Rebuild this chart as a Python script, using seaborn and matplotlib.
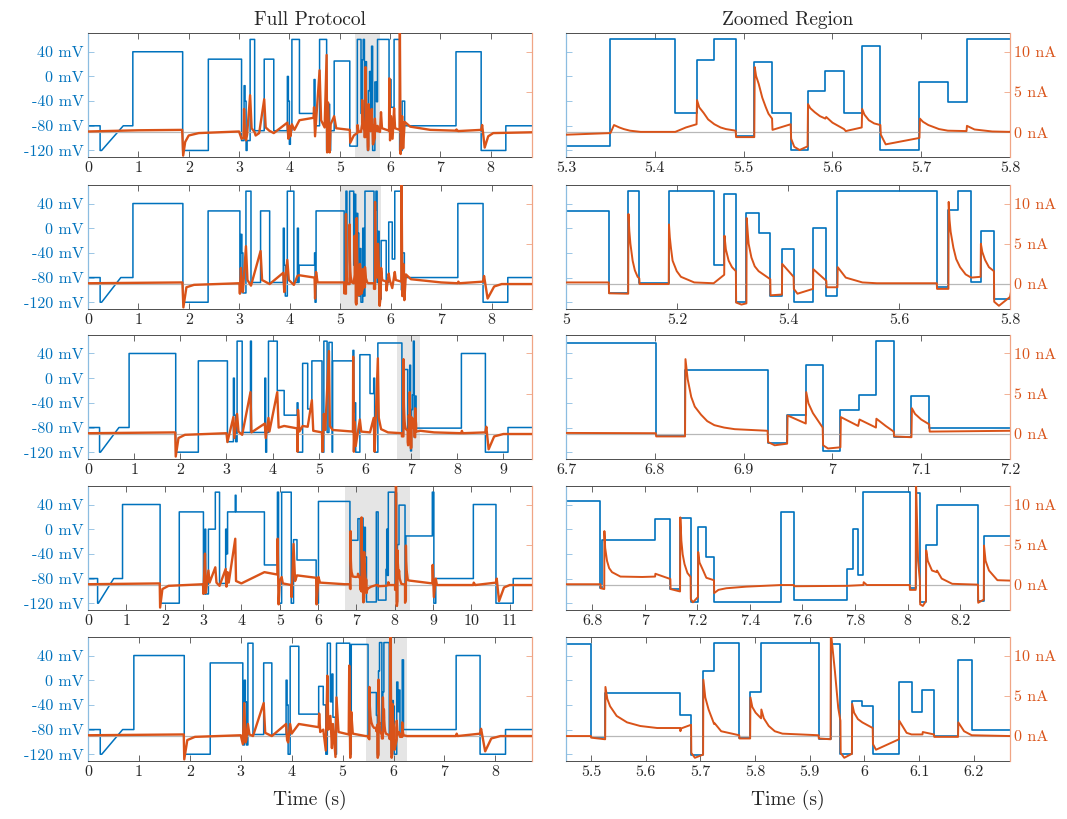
import matplotlib
matplotlib.use("Agg")
import pandas as pd
import matplotlib.pyplot as plt
import seaborn as sns

# =========================================================
# DATA
# =========================================================
# voltage protocols: (time s, level mV) held until the next entry
V_ROW1 = [(0, -80), (0.24, -120), (0.27, -120), (0.70, -80), (0.89, 40), (1.88, -120),
          (2.39, 28), (3.05, -104), (3.10, -15), (3.12, -40), (3.14, -120), (3.16, -104),
          (3.22, 60), (3.31, -88), (3.50, 28), (3.69, -88), (3.96, 0), (3.98, -40),
          (4.00, -110), (4.02, -88), (4.05, 60), (4.20, -60), (4.49, -5), (4.51, -80),
          (4.60, 60), (4.74, -120), (4.76, -45), (4.80, -120), (4.82, -88), (4.89, 25),
          (5.20, -113), (5.35, 60), (5.423, -60), (5.447, 27), (5.467, 60), (5.491, -97),
          (5.512, 24), (5.532, -59), (5.553, -120), (5.572, -23), (5.592, 8), (5.613, -60),
          (5.633, 49), (5.654, -120), (5.698, -9), (5.73, -41), (5.751, 60), (5.98, -88),
          (6.00, -5), (6.02, -50), (6.08, 60), (6.19, -120), (6.24, -40), (6.29, -80),
          (7.31, 40), (7.81, -120), (8.30, -80)]
V_ROW2 = [(0, -80), (0.24, -120), (0.27, -120), (0.65, -80), (0.89, 40), (1.88, -120),
          (2.38, 28), (3.01, -105), (3.03, -10), (3.05, -40), (3.07, -105), (3.13, 60),
          (3.23, -88), (3.42, 28), (3.60, -88), (3.87, 0), (3.89, -60), (3.91, -110),
          (3.95, 60), (4.08, -88), (4.15, 0), (4.17, -88), (4.18, -60), (4.49, -40),
          (4.50, -120), (4.52, 28), (5.077, -105), (5.112, 60), (5.132, -89), (5.185, 60),
          (5.266, -60), (5.285, 55), (5.306, -120), (5.325, 24), (5.347, -8), (5.368, -110),
          (5.389, -33), (5.41, -120), (5.445, 0), (5.469, -110), (5.489, 60), (5.668, -96),
          (5.689, 29), (5.707, 60), (5.73, -88), (5.747, -5), (5.771, -115), (5.81, -20),
          (5.91, -88), (5.96, 10), (6.03, -50), (6.08, 60), (6.21, -100), (6.23, -40),
          (6.27, -80), (7.33, 40), (7.83, -120), (8.32, -80)]
V_ROW3 = [(0, -80), (0.25, -120), (0.27, -120), (0.67, -80), (0.89, 40), (1.90, -120),
          (2.39, 28), (3.02, -103), (3.15, 0), (3.17, -60), (3.20, -103), (3.23, 60),
          (3.34, -88), (3.52, 60), (3.54, -88), (3.83, 0), (3.85, -120), (3.87, -88),
          (3.91, 60), (4.10, -20), (4.25, -60), (4.53, -40), (4.55, -120), (4.65, 24),
          (4.76, -50), (4.85, 28), (5.07, -120), (5.11, 60), (5.18, -88), (5.22, 58),
          (5.29, -120), (5.30, 28), (5.74, 45), (5.76, -55), (5.78, -40), (5.80, -120),
          (5.89, 38), (6.11, -25), (6.19, 0), (6.21, -120), (6.28, 57), (6.801, -92),
          (6.834, 14), (6.927, -105), (6.949, -60), (6.970, 21), (6.989, -118), (7.009, -51),
          (7.030, -27), (7.049, 60), (7.069, -96), (7.089, -29), (7.109, -81), (8.09, 40),
          (8.61, -120), (9.10, -80)]
V_ROW4 = [(0, -80), (0.25, -120), (0.27, -120), (0.67, -80), (0.90, 40), (1.88, -120),
          (2.38, 28), (3.01, -105), (3.05, 0), (3.07, -105), (3.14, 0), (3.32, 60),
          (3.43, -88), (3.59, 0), (3.61, -40), (3.64, 28), (3.84, 55), (3.86, 28),
          (4.60, -58), (4.94, 60), (4.97, -120), (5.05, 60), (5.30, -120), (5.36, -17),
          (5.45, -50), (5.95, -120), (6.01, 45), (6.831, -95), (6.838, -18), (7.039, 17),
          (7.097, -97), (7.134, 18), (7.174, -118), (7.202, 3), (7.234, -45), (7.263, -118),
          (7.519, 28), (7.567, -115), (7.771, -65), (7.791, 0), (7.810, -75), (7.832, 60),
          (8.008, -95), (8.031, 59), (8.047, -118), (8.070, -25), (8.111, 39), (8.268, -116),
          (8.290, -11), (8.98, 60), (9.02, -120), (9.07, -80), (10.05, 40), (10.64, -120),
          (11.09, -80)]
V_ROW5 = [(0, -80), (0.24, -120), (0.27, -120), (0.68, -80), (0.90, 40), (1.89, -120),
          (2.40, 28), (3.04, -105), (3.07, 0), (3.09, -35), (3.11, -105), (3.14, 60),
          (3.24, -88), (3.45, 28), (3.61, -88), (3.89, 0), (3.91, -40), (3.93, -120),
          (3.97, 55), (4.14, -55), (4.53, -10), (4.62, -40), (4.67, -120), (4.70, 60),
          (4.76, -35), (4.79, 10), (4.81, -60), (4.86, -120), (4.88, 60), (5.14, -120),
          (5.17, 58), (5.500, -92), (5.526, -20), (5.663, -57), (5.683, -122), (5.705, 15),
          (5.725, 61), (5.771, -94), (5.791, -19), (5.811, 61), (5.916, -95), (5.938, 59),
          (5.956, -120), (5.977, -33), (5.996, -42), (6.015, -120), (6.063, -3), (6.086, -51),
          (6.106, -16), (6.127, -91), (6.171, 33), (6.196, -80), (7.23, 40), (7.70, -120),
          (8.20, -80)]

# end of the slow ramp at the start of each protocol
RAMP_END = [0.70, 0.65, 0.67, 0.67, 0.68]

# recorded current: (time s, current nA)
I_ROW1 = [(0, 0.1), (1.0, 0.25), (1.87, 0.3), (1.89, -2.9), (1.93, -1.2), (2.0, -0.4),
          (2.2, -0.1), (3.0, 0.1), (3.05, -0.8), (3.09, -0.7), (3.10, 2.9), (3.12, -0.5),
          (3.14, -1.0), (3.16, -0.3), (3.22, 4.6), (3.25, 0.5), (3.31, 0.0), (3.33, -0.4),
          (3.40, -0.1), (3.50, 4.1), (3.53, 0.6), (3.60, 0.2), (3.69, -0.1), (3.96, 1.2),
          (3.98, -0.8), (4.00, 0.8), (4.02, -0.5), (4.05, 1.0), (4.10, 0.3), (4.20, 1.5),
          (4.48, 1.8), (4.49, 3.1), (4.51, -0.5), (4.60, 7.7), (4.63, 1.5), (4.70, 0.6),
          (4.74, 9.6), (4.75, -2.5), (4.77, 3.7), (4.79, -0.5), (4.80, -2.5), (4.82, 1.0),
          (4.89, 2.0), (4.93, 0.5), (5.20, 0.3), (5.21, -1.3), (5.28, -0.4), (5.30, -0.3),
          (5.35, -0.1), (5.354, 0.9), (5.360, 0.6), (5.365, 0.4), (5.372, 0.2),
          (5.384, 0.05), (5.423, 0.05), (5.435, 0.6), (5.447, 1.0), (5.4475, 4.0),
          (5.450, 3.1), (5.455, 2.4), (5.460, 1.6), (5.467, 1.0), (5.474, 0.6),
          (5.480, 0.4), (5.491, 0.2), (5.4915, -0.6), (5.512, -0.6), (5.5125, 8.1),
          (5.514, 7.0), (5.517, 6.0), (5.521, 4.3), (5.525, 3.1), (5.528, 2.3),
          (5.532, 1.7), (5.5325, 0.3), (5.553, 1.0), (5.5535, -0.8), (5.557, -1.8),
          (5.563, -2.2), (5.572, -1.75), (5.5725, 3.5), (5.575, 3.0), (5.580, 2.5),
          (5.586, 2.0), (5.592, 1.7), (5.593, 1.9), (5.600, 1.2), (5.613, 0.4),
          (5.615, 0.15), (5.633, 0.6), (5.6335, 2.9), (5.636, 2.2), (5.641, 1.5),
          (5.647, 1.1), (5.654, 0.9), (5.6545, -0.3), (5.660, -1.5), (5.698, -0.7),
          (5.6985, 1.7), (5.702, 1.3), (5.708, 0.9), (5.720, 0.4), (5.730, 0.2),
          (5.751, 0.15), (5.7515, 0.8), (5.760, 0.35), (5.780, 0.1), (5.80, 0.05),
          (5.82, 2.5), (5.84, 0.5), (5.98, 0.2), (5.985, 6.7), (6.00, -1.0), (6.02, 2.0),
          (6.05, -0.8), (6.08, 3.0), (6.10, 0.5), (6.19, 0.3), (6.195, 13.0), (6.21, -2.7),
          (6.24, 2.0), (6.26, -2.0), (6.29, 1.3), (6.40, 0.7), (6.80, 0.3), (7.31, 0.2),
          (7.32, 0.35), (7.35, 0.15), (7.81, 0.3), (7.83, 0.9), (7.88, -1.9), (7.95, -0.5),
          (8.05, -0.1), (8.82, 0.0)]
I_ROW2 = [(0, 0.1), (1.87, 0.2), (1.89, -2.9), (1.95, -0.4), (2.1, -0.1), (3.0, 0.1),
          (3.01, -1.2), (3.03, 2.0), (3.05, -0.8), (3.07, -1.0), (3.13, 4.7), (3.16, 0.5),
          (3.23, -0.2), (3.42, 4.1), (3.45, 0.5), (3.60, 0.0), (3.87, 1.4), (3.89, -1.0),
          (3.91, 0.5), (3.95, 3.0), (3.98, 0.5), (4.08, -0.1), (4.15, 1.0), (4.18, 1.1),
          (4.49, 0.8), (4.50, -1.8), (4.52, 1.5), (4.55, 0.2), (5.0, 0.2), (5.077, 0.2),
          (5.0775, -1.15), (5.112, -1.2), (5.1125, 8.7), (5.114, 6.6), (5.116, 5.0),
          (5.120, 2.9), (5.124, 1.7), (5.129, 0.9), (5.132, 0.7), (5.1325, 0.0),
          (5.185, 0.0), (5.1855, 7.4), (5.187, 5.8), (5.189, 4.5), (5.192, 2.9),
          (5.1995, 1.6), (5.207, 0.9), (5.231, 0.2), (5.266, 0.1), (5.285, 1.15),
          (5.2855, 6.0), (5.288, 4.3), (5.293, 2.9), (5.299, 2.1), (5.306, 1.6),
          (5.3065, -2.3), (5.316, -2.55), (5.325, -2.4), (5.3255, 8.2), (5.3275, 6.3),
          (5.329, 5.0), (5.334, 3.3), (5.340, 2.2), (5.347, 1.6), (5.368, 0.6),
          (5.3685, -1.4), (5.389, -1.3), (5.3895, 2.5), (5.41, 0.9), (5.4105, -0.6),
          (5.417, -1.2), (5.445, -0.6), (5.4455, 1.85), (5.469, 0.4), (5.4695, -0.4),
          (5.489, -0.4), (5.4895, 2.1), (5.504, 0.8), (5.534, 0.2), (5.56, 0.1),
          (5.668, 0.1), (5.6685, -0.6), (5.689, -0.6), (5.6895, 10.2), (5.691, 8.0),
          (5.693, 6.5), (5.698, 4.5), (5.703, 3.1), (5.710, 2.1), (5.72, 1.2), (5.73, 0.8),
          (5.747, 0.9), (5.7475, 5.0), (5.750, 4.0), (5.755, 3.0), (5.762, 2.1),
          (5.771, 1.6), (5.7715, -2.2), (5.780, -2.7), (5.80, -1.6), (5.81, 2.0),
          (5.83, 0.5), (5.91, 0.3), (5.915, -0.8), (5.96, 1.3), (5.98, 0.5), (6.03, -0.5),
          (6.08, 1.5), (6.10, 0.5), (6.21, 0.3), (6.215, 13.0), (6.23, -1.5), (6.25, 2.5),
          (6.27, -2.0), (6.30, 1.2), (6.40, 0.6), (7.0, 0.2), (7.33, 0.1), (7.34, 0.3),
          (7.36, 0.1), (7.83, 0.3), (7.85, 1.0), (7.92, -1.8), (8.05, -0.3), (8.2, 0.0),
          (8.8, 0.0)]
I_ROW3 = [(0, 0.1), (1.89, 0.2), (1.90, -2.8), (1.96, -0.5), (2.1, -0.1), (3.0, 0.1),
          (3.02, -1.0), (3.15, 2.1), (3.17, -0.5), (3.23, 2.5), (3.26, 0.3), (3.34, -0.1),
          (3.52, 5.2), (3.54, 0.2), (3.83, 1.3), (3.85, -0.5), (3.91, 2.0), (3.93, 0.3),
          (4.10, 5.2), (4.13, 0.8), (4.25, 1.0), (4.53, 0.7), (4.54, -2.2), (4.55, 3.0),
          (4.58, 0.3), (4.65, 1.0), (4.76, 0.9), (4.85, 4.2), (4.88, 0.4), (5.07, 0.2),
          (5.08, -2.2), (5.11, 2.5), (5.14, 0.5), (5.22, 10.3), (5.24, 1.0), (5.30, 0.5),
          (5.74, 0.3), (5.745, 9.6), (5.76, -2.2), (5.78, 1.5), (5.80, -1.5), (5.89, 1.8),
          (5.92, 0.3), (6.11, 0.2), (6.19, 2.0), (6.21, -2.2), (6.28, 9.4), (6.30, 2.0),
          (6.35, 0.6), (6.5, 0.2), (6.801, 0.1), (6.8015, -0.3), (6.834, -0.3),
          (6.8345, 9.3), (6.837, 6.8), (6.841, 4.6), (6.845, 3.4), (6.852, 2.4),
          (6.859, 1.6), (6.867, 1.1), (6.878, 0.8), (6.890, 0.6), (6.927, 0.4),
          (6.9275, -1.0), (6.935, -1.4), (6.949, -1.2), (6.9495, 2.3), (6.970, 1.3),
          (6.9705, 5.2), (6.973, 3.8), (6.978, 2.6), (6.989, 0.8), (6.9895, -1.4),
          (6.995, -1.8), (7.009, -1.65), (7.0095, 2.1), (7.029, 1.0), (7.0305, 1.8),
          (7.049, 0.8), (7.0495, 1.9), (7.060, 1.0), (7.069, 0.3), (7.0695, -0.3),
          (7.089, -0.4), (7.0895, 3.2), (7.093, 2.5), (7.100, 1.8), (7.109, 1.2),
          (7.1095, 0.3), (7.2, 0.4), (7.5, 0.2), (8.09, 0.1), (8.10, 0.4), (8.12, 0.1),
          (8.61, 0.2), (8.63, 0.9), (8.68, -1.9), (8.8, -0.3), (9.0, 0.0), (9.62, 0.0)]
I_ROW4 = [(0, 0.1), (1.87, 0.2), (1.88, -2.8), (1.94, -0.5), (2.1, -0.1), (3.0, 0.1),
          (3.01, -1.1), (3.05, 3.9), (3.07, -1.0), (3.14, 1.8), (3.17, 0.3), (3.32, 2.2),
          (3.35, 0.3), (3.43, -0.1), (3.59, 2.0), (3.61, -0.2), (3.64, 1.6), (3.67, 0.3),
          (3.84, 5.75), (3.86, 0.5), (4.0, 0.2), (4.60, 1.6), (4.94, 1.3), (4.945, 5.75),
          (4.97, -2.4), (5.0, 0.5), (5.05, 1.0), (5.08, 0.2), (5.30, 0.0), (5.31, -1.5),
          (5.36, 5.1), (5.40, 0.5), (5.45, 1.2), (5.95, 0.9), (5.96, -2.4), (6.01, 1.0),
          (6.05, 0.3), (6.70, 0.1), (6.831, 0.1), (6.832, -0.4), (6.8455, -0.5),
          (6.846, 6.7), (6.849, 4.6), (6.856, 3.0), (6.864, 2.1), (6.875, 1.6),
          (6.907, 1.05), (6.990, 1.0), (7.039, 1.05), (7.040, 1.4), (7.097, 0.75),
          (7.098, -0.5), (7.134, -0.8), (7.135, 8.4), (7.139, 5.5), (7.144, 3.8),
          (7.151, 2.6), (7.162, 1.5), (7.174, 1.0), (7.175, -1.75), (7.183, -2.15),
          (7.202, -1.5), (7.203, 4.1), (7.208, 2.8), (7.222, 1.8), (7.234, 0.9),
          (7.263, 0.6), (7.264, -1.0), (7.280, -0.6), (7.310, -0.4), (7.386, -0.2),
          (7.519, 0.0), (7.567, 0.0), (7.568, -0.15), (7.771, -0.1), (7.832, 0.0),
          (7.833, 0.35), (7.845, 0.0), (8.008, 0.0), (8.009, -0.6), (8.031, -0.6),
          (8.032, 13.0), (8.040, 3.0), (8.047, 0.5), (8.048, -2.4), (8.058, -2.6),
          (8.070, -2.0), (8.071, 4.3), (8.077, 3.0), (8.093, 1.8), (8.111, 1.6),
          (8.112, 1.8), (8.130, 0.8), (8.170, 0.15), (8.268, 0.05), (8.269, -2.2),
          (8.290, -1.8), (8.291, 4.9), (8.297, 3.0), (8.310, 1.8), (8.342, 0.6),
          (8.39, 0.55), (8.98, 0.2), (8.99, 2.5), (9.02, -1.5), (9.07, 0.8), (9.1, 0.0),
          (10.05, 0.0), (10.06, 0.3), (10.1, 0.0), (10.64, 0.3), (10.66, 0.8),
          (10.72, -2.0), (10.85, -0.3), (11.0, 0.0), (11.58, 0.0)]
I_ROW5 = [(0, 0.1), (1.88, 0.2), (1.89, -2.9), (1.95, -0.5), (2.1, -0.1), (3.0, 0.1),
          (3.04, -1.0), (3.07, 4.1), (3.09, -0.8), (3.11, -0.5), (3.14, 1.5), (3.17, 0.2),
          (3.24, 0.0), (3.45, 4.1), (3.48, 0.4), (3.61, 0.0), (3.89, 1.5), (3.91, -0.5),
          (3.93, -0.8), (3.97, 1.5), (4.0, 0.3), (4.14, 1.5), (4.53, 1.1), (4.54, 2.8),
          (4.56, 0.5), (4.62, 0.8), (4.67, -1.8), (4.70, 7.5), (4.72, 0.8), (4.76, 2.5),
          (4.79, -1.5), (4.81, 1.5), (4.86, -2.6), (4.88, 4.8), (4.92, 0.5), (5.12, 0.2),
          (5.13, 8.75), (5.15, -2.7), (5.17, 3.0), (5.20, 0.3), (5.45, 0.0), (5.500, 0.0),
          (5.5005, -0.2), (5.526, -0.4), (5.5265, 6.1), (5.530, 4.6), (5.535, 3.7),
          (5.547, 2.5), (5.566, 1.7), (5.590, 1.25), (5.621, 1.0), (5.663, 1.0),
          (5.6635, 0.6), (5.665, 0.95), (5.683, 1.4), (5.6835, -2.1), (5.690, -2.7),
          (5.705, -2.3), (5.7055, 7.0), (5.709, 4.8), (5.715, 3.3), (5.724, 1.7),
          (5.725, 1.5), (5.726, 1.6), (5.738, 0.6), (5.771, 0.1), (5.7715, -0.3),
          (5.791, -0.3), (5.7915, 4.8), (5.795, 3.6), (5.801, 2.9), (5.811, 2.2),
          (5.8115, 3.3), (5.816, 2.2), (5.825, 1.25), (5.836, 0.6), (5.850, 0.3),
          (5.916, 0.1), (5.9165, -0.3), (5.938, -0.4), (5.9385, 13.0), (5.946, 8.0),
          (5.952, 3.5), (5.956, 1.9), (5.9565, -2.1), (5.963, -2.7), (5.977, -2.2),
          (5.9775, 4.0), (5.981, 2.9), (5.988, 2.1), (5.996, 1.7), (6.015, 1.0),
          (6.0155, -1.0), (6.021, -1.7), (6.063, -0.4), (6.0635, 1.9), (6.077, 0.4),
          (6.086, 0.2), (6.106, 0.2), (6.1065, 0.5), (6.127, 0.2), (6.1275, -0.1),
          (6.171, -0.1), (6.1715, 1.7), (6.182, 0.6), (6.196, 0.1), (6.266, 0.0),
          (7.23, 0.0), (7.24, 0.3), (7.26, 0.0), (7.70, 0.3), (7.72, 0.9), (7.80, -1.9),
          (7.92, -0.3), (8.1, 0.0), (8.72, 0.0)]

V_ROWS = [V_ROW1, V_ROW2, V_ROW3, V_ROW4, V_ROW5]
I_ROWS = [I_ROW1, I_ROW2, I_ROW3, I_ROW4, I_ROW5]

FULL_XMAX = [8.82, 8.8, 9.62, 11.58, 8.72]
FULL_TICKS = [list(range(0, 9)), list(range(0, 9)), list(range(0, 10)),
              list(range(0, 12)), list(range(0, 9))]
ZOOM_LIM = [(5.3, 5.8), (5.0, 5.8), (6.7, 7.2), (6.70, 8.39), (5.4545, 6.266)]
ZOOM_TICKS = [[5.3, 5.4, 5.5, 5.6, 5.7, 5.8], [5.0, 5.2, 5.4, 5.6, 5.8],
              [6.7, 6.8, 6.9, 7.0, 7.1, 7.2], [6.8, 7.0, 7.2, 7.4, 7.6, 7.8, 8.0, 8.2],
              [5.5, 5.6, 5.7, 5.8, 5.9, 6.0, 6.1, 6.2]]

V_TICKS = [-120, -80, -40, 0, 40]
I_TICKS = [0, 5, 10]
V_LIM = (-131, 70)
I_LIM = (-3.1, 12.3)

# =========================================================
# STYLE
# =========================================================
sns.set_theme(style="ticks")
plt.rcParams["font.family"] = ["cmr10", "DejaVu Serif"]
plt.rcParams["mathtext.fontset"] = "cm"
plt.rcParams["axes.formatter.use_mathtext"] = True
plt.rcParams["axes.unicode_minus"] = False

BLUE = "#0072BD"
ORANGE = "#D95319"
EDGE = "#4d4d4d"
SHADE = "#e5e5e5"


def voltage_frame(steps, ramp_end, t_end):
    ts, vs = [steps[0][0]], [steps[0][1]]
    for t, v in steps[1:]:
        if t != ramp_end:
            ts.append(t)
            vs.append(vs[-1])
        ts.append(t)
        vs.append(v)
    ts.append(t_end)
    vs.append(vs[-1])
    return pd.DataFrame({"t": ts, "v": vs})


def style_axes(ax, ax2, xlim, xticks, left_labels):
    ax.set_xlim(*xlim)
    ax.set_ylim(*V_LIM)
    ax2.set_ylim(*I_LIM)
    ax.set_xticks(xticks)
    ax.set_xticklabels([f"{x:g}" for x in xticks], fontsize=11.5, color="#262626")
    ax.set_yticks(V_TICKS)
    ax2.set_yticks(I_TICKS)
    if left_labels:
        ax.set_yticklabels([f"{v} mV" for v in V_TICKS], fontsize=11.5, color=BLUE)
        ax2.set_yticklabels([])
    else:
        ax.set_yticklabels([])
        ax2.set_yticklabels([f"{i} nA" for i in I_TICKS], fontsize=11.5, color=ORANGE)
    ax.set_xlabel("")
    ax.set_ylabel("")
    ax2.set_ylabel("")
    ax.tick_params(axis="x", direction="in", top=True, bottom=True, length=4,
                   width=0.6, color=EDGE, pad=3)
    ax.tick_params(axis="y", direction="in", left=True, right=False, length=4,
                   width=0.6, color="#8cbde0", pad=3)
    ax2.tick_params(axis="y", direction="in", right=True, length=4, width=0.6,
                    color="#f0a585", pad=3)
    for side in ["top", "bottom"]:
        ax.spines[side].set_color(EDGE)
        ax.spines[side].set_linewidth(0.7)
        ax2.spines[side].set_visible(False)
    ax.spines["right"].set_visible(False)
    ax2.spines["left"].set_visible(False)
    ax.spines["left"].set_color("#8cbde0")
    ax2.spines["right"].set_color("#f0a585")
    ax.spines["left"].set_linewidth(0.9)
    ax2.spines["right"].set_linewidth(0.9)


# =========================================================
# FIGURE
# =========================================================
fig = plt.figure(figsize=(10.67, 8.19), dpi=100)

row_bottoms = [0.808, 0.6227, 0.4396, 0.2552, 0.0708]
row_height = 0.1514
left_x, right_x, width = 0.0825, 0.5305, 0.4161

for r in range(5):
    vdf = voltage_frame(V_ROWS[r], RAMP_END[r], FULL_XMAX[r])
    idf = pd.DataFrame(I_ROWS[r], columns=["t", "i"])

    for col, x0 in enumerate([left_x, right_x]):
        ax = fig.add_axes([x0, row_bottoms[r], width, row_height])
        ax.set_facecolor("white")
        ax2 = ax.twinx()

        if col == 0:
            z0, z1 = ZOOM_LIM[r]
            ax.axvspan(z0, z1, color=SHADE, lw=0, zorder=0)
            lw_v, lw_i = 1.1, 1.7
        else:
            lw_v, lw_i = 1.2, 1.4

        sns.lineplot(data=vdf, x="t", y="v", ax=ax, color=BLUE, lw=lw_v,
                     estimator=None, sort=False, zorder=2)
        ax2.axhline(0, color="#b8b8b8", lw=0.9, zorder=1)
        sns.lineplot(data=idf, x="t", y="i", ax=ax2, color=ORANGE, lw=lw_i,
                     estimator=None, sort=False, zorder=3)

        if col == 0:
            style_axes(ax, ax2, (0, FULL_XMAX[r]), FULL_TICKS[r], True)
        else:
            style_axes(ax, ax2, ZOOM_LIM[r], ZOOM_TICKS[r], False)

        if r == 0:
            ax.set_title("Full Protocol" if col == 0 else "Zoomed Region",
                         fontsize=14, pad=6, color="#262626")
        if r == 4:
            ax.set_xlabel("Time (s)", fontsize=14, color="#262626", labelpad=8)

plt.savefig("out.png", dpi=100)
